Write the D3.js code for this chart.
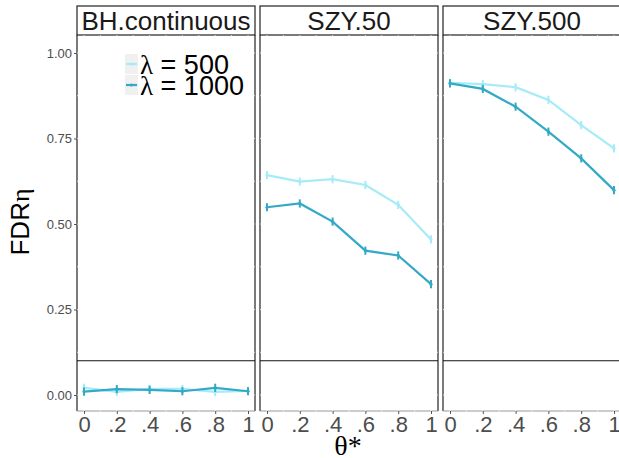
<!DOCTYPE html>
<html>
<head>
<meta charset="utf-8">
<script src="https://cdn.jsdelivr.net/npm/d3@7"></script>
<style>
  body { margin: 0; background: #fff; }
  svg { display: block; }
</style>
</head>
<body>
<div id="chart"></div>
<script>
// facets, x values, series
const facets = ['BH.continuous', 'SZY.50', 'SZY.500'];
const theta = [0, 0.2, 0.4, 0.6, 0.8, 1];
const xTickLabels = ['0', '.2', '.4', '.6', '.8', '1'];
const yTicks = [0, 0.25, 0.5, 0.75, 1];
const seriesNames = ['500', '1000'];
const seriesColors = ['#a6ebf8', '#33a9c6'];

// FDR values per facet, per series (lambda = 500, lambda = 1000)
const bh500 = [0.021, 0.009, 0.018, 0.018, 0.009, 0.012];
const bh1000 = [0.010, 0.017, 0.015, 0.011, 0.021, 0.011];
const szy50_500 = [0.643, 0.624, 0.631, 0.614, 0.556, 0.455];
const szy50_1000 = [0.549, 0.560, 0.507, 0.422, 0.408, 0.324];
const szy500_500 = [0.913, 0.909, 0.900, 0.863, 0.789, 0.721];
const szy500_1000 = [0.911, 0.895, 0.843, 0.770, 0.692, 0.599];
const errHalf = 0.012;
const hline = 0.1;

const values = [[bh500, bh1000], [szy50_500, szy50_1000], [szy500_500, szy500_1000]];

const W = 619, H = 458;
const left = 77, gap = 5, panelW = 178;
const stripTop = 6, stripBot = 35, panelBot = 411;

const svg = d3.select('#chart').append('svg').attr('width', W).attr('height', H)
  .style('font-family', 'Liberation Sans, Arial, sans-serif');

const y = d3.scaleLinear().domain([0, 1]).range([395, 53]);

facets.forEach(function(name, i) {
  const x0 = left + i * (panelW + gap);
  const x = d3.scaleLinear().domain([0, 1]).range([x0 + 7, x0 + panelW - 7]);
  const g = svg.append('g');

  // panel borders
  g.append('line').attr('x1', x0).attr('x2', x0).attr('y1', stripBot).attr('y2', panelBot)
    .attr('stroke', '#222').attr('stroke-width', 1.2);
  g.append('line').attr('x1', x0 + panelW).attr('x2', x0 + panelW).attr('y1', stripBot).attr('y2', panelBot)
    .attr('stroke', '#222').attr('stroke-width', 1.2);
  g.append('line').attr('x1', x0).attr('x2', x0 + panelW).attr('y1', panelBot).attr('y2', panelBot)
    .attr('stroke', '#999').attr('stroke-width', 1);

  // strip
  g.append('rect').attr('x', x0).attr('y', stripTop).attr('width', panelW).attr('height', stripBot - stripTop)
    .attr('fill', '#fff').attr('stroke', '#222').attr('stroke-width', 1.2);
  g.append('text').attr('x', x0 + panelW / 2).attr('y', stripBot - 5)
    .attr('text-anchor', 'middle').attr('font-size', 26).attr('fill', '#1a1a1a').text(name);

  // white grid (shows only where it crosses borders)
  const gy = d3.range(0, 1.001, 0.125);
  g.selectAll('.gy').data(gy).join('line')
    .attr('x1', x0).attr('x2', x0 + panelW).attr('y1', d => y(d)).attr('y2', d => y(d))
    .attr('stroke', '#fff').attr('stroke-width', 0.7);
  const gx = d3.range(0, 1.001, 0.1);
  g.selectAll('.gx').data(gx).join('line')
    .attr('x1', d => x(d)).attr('x2', d => x(d)).attr('y1', stripBot).attr('y2', panelBot + 0.5)
    .attr('stroke', '#fff').attr('stroke-width', 0.7);

  // hline at 0.1
  g.append('line').attr('x1', x0).attr('x2', x0 + panelW).attr('y1', y(hline)).attr('y2', y(hline))
    .attr('stroke', '#111').attr('stroke-width', 1.1);

  // x axis
  const xAxis = d3.axisBottom(x).tickValues(theta).tickSize(3).tickPadding(2)
    .tickFormat((d, k) => xTickLabels[k]);
  const ax = g.append('g').attr('transform', 'translate(0,' + panelBot + ')').call(xAxis);
  ax.select('.domain').remove();
  ax.selectAll('line').attr('stroke', '#555');
  ax.selectAll('text').attr('font-size', 22).attr('fill', '#4d4d4d')
    .attr('font-family', 'Liberation Sans, Arial, sans-serif');

  // series
  values[i].forEach(function(vals, s) {
    const pts = theta.map((t, k) => [t, vals[k]]);
    g.append('path').datum(pts)
      .attr('d', d3.line().x(d => x(d[0])).y(d => y(d[1])))
      .attr('fill', 'none').attr('stroke', seriesColors[s]).attr('stroke-width', 2.2);
    g.selectAll('.eb' + s).data(pts).join('line')
      .attr('x1', d => x(d[0])).attr('x2', d => x(d[0]))
      .attr('y1', d => y(d[1] - errHalf)).attr('y2', d => y(d[1] + errHalf))
      .attr('stroke', seriesColors[s]).attr('stroke-width', 2);
    g.selectAll('.pt' + s).data(pts).join('circle')
      .attr('cx', d => x(d[0])).attr('cy', d => y(d[1])).attr('r', 1.6)
      .attr('fill', seriesColors[s]);
  });

  if (i === 0) {
    const yAxis = d3.axisLeft(y).tickValues(yTicks).tickSize(3).tickPadding(2)
      .tickFormat(d3.format('.2f'));
    const ay = g.append('g').attr('transform', 'translate(' + x0 + ',0)').call(yAxis);
    ay.select('.domain').remove();
    ay.selectAll('line').attr('stroke', '#555');
    ay.selectAll('text').attr('font-size', 13).attr('fill', '#4d4d4d')
      .attr('font-family', 'Liberation Sans, Arial, sans-serif');
  }
});

// legend
const leg = svg.append('g').attr('transform', 'translate(125,54)');
seriesNames.forEach(function(n, s) {
  const ly = s * 21;
  leg.append('rect').attr('x', 0).attr('y', ly).attr('width', 13).attr('height', 20).attr('fill', '#f0f0f0');
  leg.append('line').attr('x1', 1).attr('x2', 12).attr('y1', ly + 10).attr('y2', ly + 10)
    .attr('stroke', seriesColors[s]).attr('stroke-width', 2.2);
  leg.append('circle').attr('cx', 6.5).attr('cy', ly + 10).attr('r', 1.6).attr('fill', seriesColors[s]);
  const t = leg.append('text').attr('x', 15).attr('y', ly + 20).attr('font-size', 27).attr('fill', '#000');
  t.append('tspan').attr('font-family', 'Liberation Serif, Times New Roman, serif').text('λ');
  t.append('tspan').text(' = ' + n);
});

// axis titles
svg.append('text').attr('x', 348).attr('y', 455).attr('text-anchor', 'middle')
  .attr('font-size', 28).attr('font-family', 'Liberation Serif, Times New Roman, serif').text('θ*');
const yl = svg.append('text').attr('transform', 'translate(29,222) rotate(-90)')
  .attr('text-anchor', 'middle').attr('font-size', 26);
yl.append('tspan').text('FDR');
yl.append('tspan').attr('font-family', 'Liberation Serif, Times New Roman, serif').text('η');
</script>
</body>
</html>
